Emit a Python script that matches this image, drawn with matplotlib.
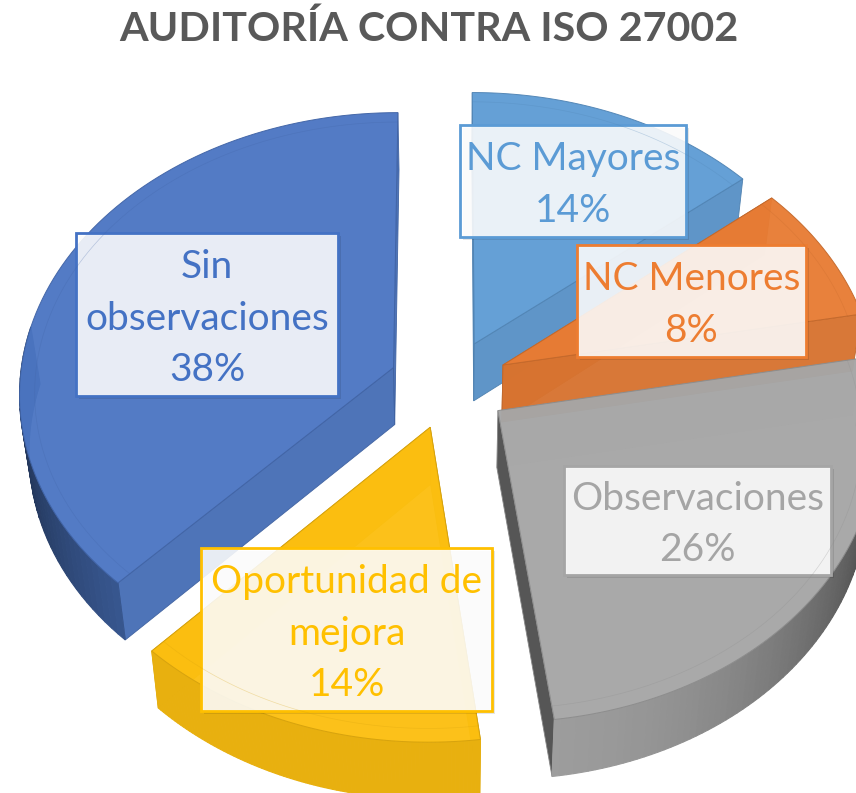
import numpy as np
import matplotlib
matplotlib.use("Agg")
import matplotlib.pyplot as plt
from matplotlib.patches import Polygon, Rectangle
from matplotlib.colors import to_rgb

categories = ["NC Mayores", "NC Menores", "Observaciones", "Oportunidad de\nmejora", "Sin\nobservaciones"]
values = [14, 8, 26, 14, 38]
colors = ["#5b9bd5", "#ed7d31", "#a5a5a5", "#ffc000", "#4472c4"]
face_colors = ["#5f9cd5", "#e77c34", "#a6a6a6", "#fcbf10", "#4c76c3"]
explode = [60, 60, 60, 60, 60]

# label boxes in pixels: left, top, right, bottom
boxes = [(460, 125, 686, 237), (577, 245, 806, 357), (564, 466, 831, 575),
         (201, 548, 492, 711), (76, 233, 338, 396)]

R = 374
K = 0.0866
TILT = 0.748
DEPTH = 57
CX, CY = 449, 384


def project(u, v, z=0.0):
    s = 1 / (1 + K * np.asarray(v) / R)
    x = CX + np.asarray(u) * s * (1 - 0.022 * z)
    y = CY - np.asarray(v) * TILT * s + z * DEPTH
    return np.column_stack([x, y])


def shade(col, f):
    return tuple(min(1, c * f) for c in to_rgb(col))


fig = plt.figure(figsize=(8.56, 7.93), dpi=100)

# pie on a hidden axes gives the angles and the exploded centres
helper = fig.add_axes([0, 0, 0.01, 0.01])
wedges, _ = helper.pie(values, explode=explode, radius=R, startangle=90, counterclock=False)
helper.set_visible(False)

ax = fig.add_axes([0, 0, 1, 1])
ax.set_xlim(0, 856)
ax.set_ylim(793, 0)
ax.axis("off")

# back to front
for i in [0, 1, 4, 3, 2]:
    w = wedges[i]
    col = face_colors[i]
    cu, cv = w.center
    th = np.radians(np.linspace(w.theta1, w.theta2, 90))
    au = cu + R * np.cos(th)
    av = cv + R * np.sin(th)

    # cut faces
    for k in [-1, 0]:
        pts = np.vstack([project(cu, cv, 0), project(au[k], av[k], 0),
                         project(au[k], av[k], 1), project(cu, cv, 1)])
        dark, alpha = 0.93, 0.96
        if i == 2:
            # gray slice: far side is glassy, near side is the dark one
            dark, alpha = (0.52, 1.0) if k == 0 else (1.0, 0.3)
        ax.add_patch(Polygon(pts, closed=True, fc=shade(col, dark), ec=shade(col, 0.82),
                             lw=0.6, alpha=alpha))

    # rim, one quad per step so the shading can follow the angle
    for j in range(len(th) - 1):
        if np.sin(th[j]) > 0.15:
            continue
        f = 0.42 + 0.53 * min(1, abs(np.cos(th[j] - 1.5 * np.pi))) ** 1.6
        if i == 3:
            f = 0.92
        top = project(au[j:j + 2], av[j:j + 2], 0)
        bot = project(au[j:j + 2], av[j:j + 2], 1)
        ax.add_patch(Polygon(np.vstack([top, bot[::-1]]), closed=True,
                             fc=shade(col, f), ec=shade(col, f), lw=0.8))

    # top face
    arc = project(au, av, 0)
    top = np.vstack([project(cu, cv, 0), arc])
    ax.add_patch(Polygon(top, closed=True, fc=col, ec=shade(col, 0.85), lw=0.7, alpha=0.96))

    # faint bevel line inside the edge
    inner = project(cu + 0.96 * R * np.cos(th), cv + 0.96 * R * np.sin(th), 0)
    ax.plot(inner[:, 0], inner[:, 1], color=shade(col, 0.85), lw=0.5, alpha=0.3)

# labels
total = sum(values)
for name, val, col, (x0, y0, x1, y1) in zip(categories, values, colors, boxes):
    ax.add_patch(Rectangle((x0 + 3, y0 + 3), x1 - x0, y1 - y0, fc="black", ec="none", alpha=0.10))
    ax.add_patch(Rectangle((x0, y0), x1 - x0, y1 - y0, fc=(1, 1, 1, 0.88), ec=col, lw=2))
    ax.text((x0 + x1) / 2, (y0 + y1) / 2 + 4, f"{name}\n{round(100 * val / total)}%",
            color=col, ha="center", va="center", fontsize=28, family="Lato", linespacing=1.54)

ax.text(429, 29, "AUDITORÍA CONTRA ISO 27002", color="#595959", ha="center", va="center",
        fontsize=29.7, fontweight="bold", family="Lato")

fig.savefig("out.png", dpi=100)
